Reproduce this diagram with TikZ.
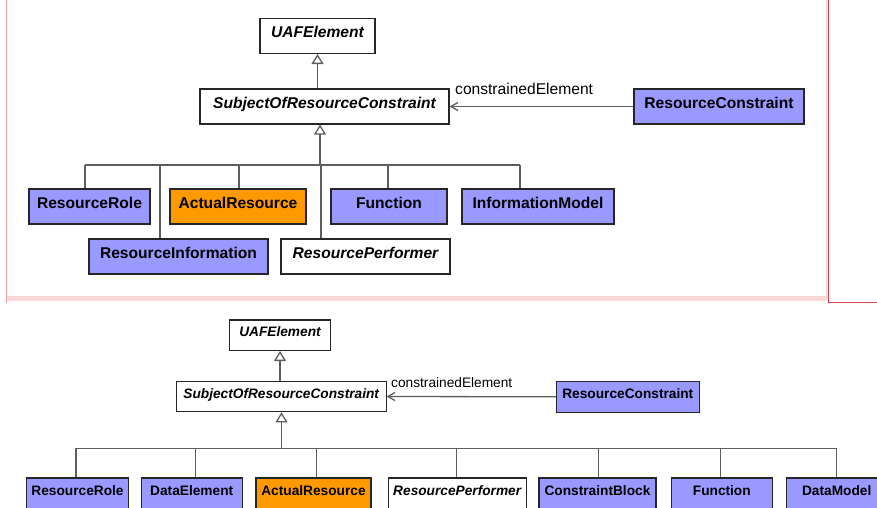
\documentclass[tikz,border=0pt]{standalone}
\usepackage{fontspec}
\setmainfont{Liberation Sans}
\usetikzlibrary{arrows.meta}
\definecolor{blockblue}{HTML}{9999FF}
\definecolor{blockorange}{HTML}{FF9900}
\definecolor{linegray}{HTML}{5E5E5E}
\definecolor{framepink}{HTML}{F9D8DA}
\definecolor{frameline}{HTML}{F2A3AA}
\definecolor{framered}{HTML}{E0404E}

\begin{document}
\begin{tikzpicture}[x=1pt, y=-1pt,
    topbox/.style={draw=black!85, line width=1.3pt, inner sep=0pt,
        text height=19.3pt, text depth=15.5pt,
        font=\fontsize{15.6}{18}\selectfont\bfseries},
    botbox/.style={draw=black!85, line width=1.1pt, inner sep=0pt,
        text height=17pt, text depth=13.5pt,
        font=\fontsize{13.7}{16}\selectfont\bfseries},
    blue/.style={fill=blockblue},
    orange/.style={fill=blockorange},
    abstract/.style={fill=white, execute at begin node=\itshape},
    line/.style={draw=linegray, line width=1.3pt},
    gen/.style={line, -{Triangle[open, length=10pt, width=12pt]}},
    dep/.style={line, -{Straight Barb[length=7pt, width=8pt]}}]
    \useasboundingbox (0,0) rectangle (877,508);
    \clip (0,0) rectangle (877,508);

    % 上图边框
    \draw[frameline, line width=1pt] (6.7,0) -- (6.7,303);
    \fill[framepink] (7,296) rectangle (826,300.7);
    \fill[framepink] (826,0) rectangle (828,300);
    \draw[framered, line width=1.3pt] (828.7,0) -- (828.7,302.7) -- (877,302.7);

    % 上图：父类
    \node[topbox, abstract, minimum width=115pt] (tUaf) at (317.5,36) {UAFElement};
    \node[topbox, abstract, minimum width=249pt] (tSubj) at (324.5,106.5) {SubjectOfResourceConstraint};
    \node[topbox, blue, minimum width=170pt] (tCons) at (719,106.5) {ResourceConstraint};
    \draw[gen] (tUaf.south |- tSubj.north) -- (tUaf.south);
    \draw[dep] (tCons.west) -- (tSubj.east);
    \node[anchor=base west, inner sep=0pt, font=\fontsize{15.6}{18}\selectfont] (tLabel) at (455,95) {constrainedElement};

    % 上图：子类
    \coordinate (tFork) at (320,165);
    \draw[line] (85,165) coordinate (tBusL) -- (520,165) coordinate (tBusR);
    \draw[gen] (tFork) -- (tFork |- tSubj.south);
    \foreach \id/\cx/\cy/\w/\dx/\sty/\txt in {
        tRole/89.5/206.5/121/85/blue/ResourceRole,
        tActual/238/206.5/136/239/orange/ActualResource,
        tFunc/389/206.5/116/388/blue/Function,
        tModel/538/206.5/152/520/blue/InformationModel,
        tInfo/178.5/256.5/179/160/blue/ResourceInformation,
        tPerf/365.5/256.5/169/321/abstract/ResourcePerformer} {
        \node[topbox, \sty, minimum width=\w pt] (\id) at (\cx,\cy) {\txt};
        \draw[line] (\dx,165) -- (\dx,165 |- \id.north);
    }

    % 下图：父类
    \node[botbox, abstract, minimum width=101.4pt] (bUaf) at (280,335.2) {UAFElement};
    \node[botbox, abstract, minimum width=209.7pt] (bSubj) at (281.2,396.5) {SubjectOfResourceConstraint};
    \node[botbox, blue, minimum width=143pt] (bCons) at (627.8,396.8) {ResourceConstraint};
    \draw[gen] (bUaf.south |- bSubj.north) -- (bUaf.south);
    \draw[dep] (bCons.west) -- (bSubj.east);
    \node[anchor=base west, inner sep=0pt, font=\fontsize{13.7}{16}\selectfont] (bLabel) at (391,387.3) {constrainedElement};

    % 下图：子类
    \coordinate (bFork) at (281.5,448.3);
    \draw[line] (76,448.3) coordinate (bBusL) -- (836.7,448.3) coordinate (bBusR);
    \draw[gen] (bFork) -- (bFork |- bSubj.south);
    \foreach \id/\cx/\w/\dx/\sty/\txt in {
        bRole/77.5/101.6/76/blue/ResourceRole,
        bData/191.7/100.7/195.7/blue/DataElement,
        bActual/313.5/115/316.7/orange/ActualResource,
        bPerf/457.2/137.7/456.7/abstract/ResourcePerformer,
        bBlock/597.5/117/598.3/blue/ConstraintBlock,
        bFunc/721.8/101/720.7/blue/Function,
        bModel/836.7/100/836.7/blue/DataModel} {
        \node[botbox, \sty, minimum width=\w pt] (\id) at (\cx,493.25) {\txt};
        \draw[line] (\dx,448.3) -- (\dx,448.3 |- \id.north);
    }
\end{tikzpicture}
\end{document}
